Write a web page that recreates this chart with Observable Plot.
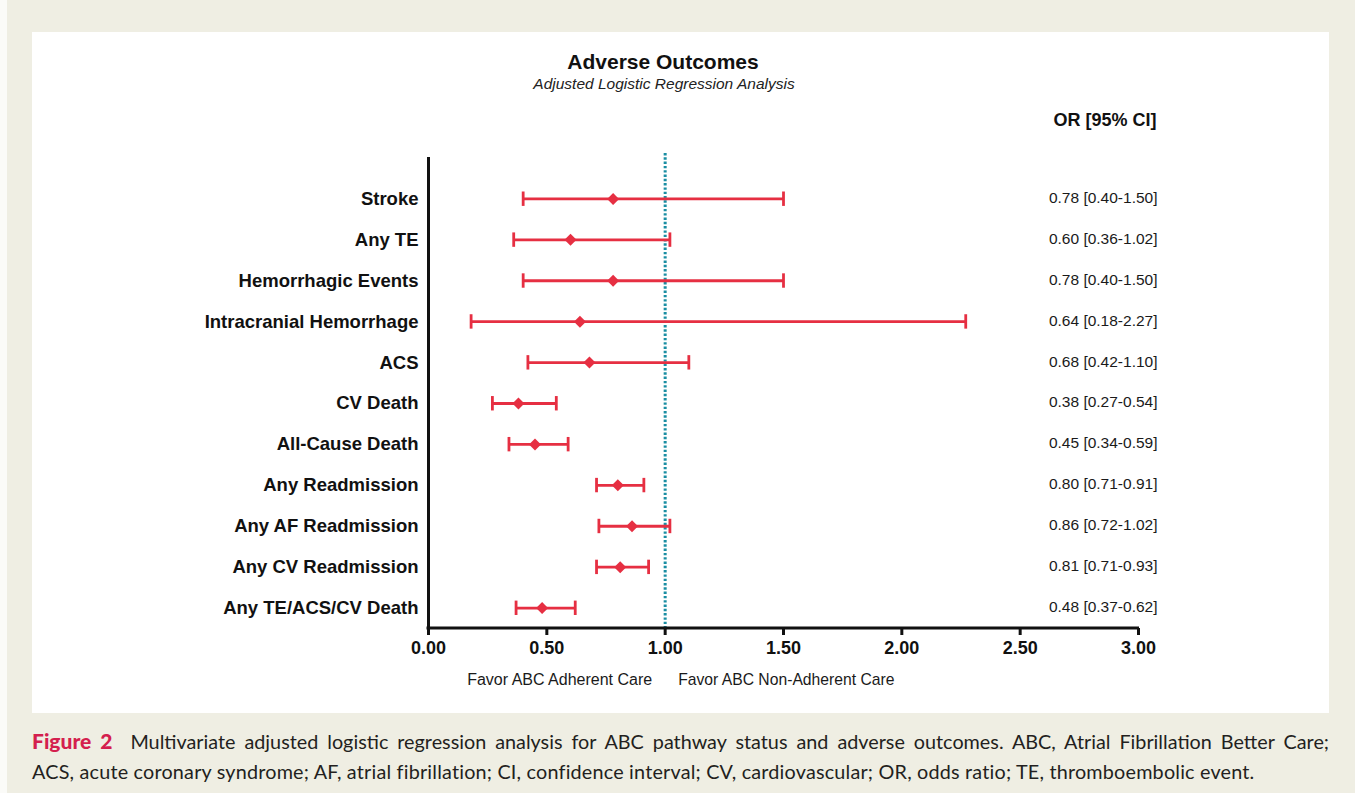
<!DOCTYPE html>
<html>
<head>
<meta charset="utf-8">
<script src="https://cdn.jsdelivr.net/npm/d3@7"></script>
<script src="https://cdn.jsdelivr.net/npm/@observablehq/plot@0.6"></script>
<style>
  html, body { margin: 0; padding: 0; }
  body { width: 1355px; height: 793px; background: #efeee3; position: relative; overflow: hidden; font-family: "Liberation Sans", Arial, sans-serif; }
  #edge { position: absolute; left: 0; top: 0; width: 7px; height: 793px; background: #fbfbf8; }
  #panel { position: absolute; left: 32px; top: 32px; width: 1297px; height: 681px; background: #ffffff; }
  #title { position: absolute; left: 0; width: 1262px; top: 18px; text-align: center; font-weight: bold; font-size: 21px; color: #111; }
  #subtitle { position: absolute; left: 0; width: 1264px; top: 43px; text-align: center; font-style: italic; font-size: 15.5px; color: #222; }
  #chart { position: absolute; left: 0; top: 68px; }
  .cap { position: absolute; left: 32px; width: 1297px; font-family: Lato, "Open Sans", sans-serif; font-size: 19.8px; color: #231f20; line-height: 1; white-space: nowrap; }
  #cap1 { top: 730px; text-align: justify; text-align-last: justify; }
  #cap2 { top: 762px; text-align: left; letter-spacing: 0.2px; }
  .fig { color: #d41f4e; font-weight: 900; font-size: 21px; }
</style>
</head>
<body>
<div id="edge"></div>
<div id="panel">
  <div id="title">Adverse Outcomes</div>
  <div id="subtitle">Adjusted Logistic Regression Analysis</div>
  <div id="chart"></div>
</div>
<div class="cap" id="cap1"><span class="fig">Figure 2</span>&nbsp; Multivariate adjusted logistic regression analysis for ABC pathway status and adverse outcomes. ABC, Atrial Fibrillation Better Care;</div>
<div class="cap" id="cap2">ACS, acute coronary syndrome; AF, atrial fibrillation; CI, confidence interval; CV, cardiovascular; OR, odds ratio; TE, thromboembolic event.</div>
<script>
// ---- data ----
const outcomes = ["Stroke", "Any TE", "Hemorrhagic Events", "Intracranial Hemorrhage", "ACS", "CV Death", "All-Cause Death", "Any Readmission", "Any AF Readmission", "Any CV Readmission", "Any TE/ACS/CV Death"];
const oddsRatio = [0.78, 0.60, 0.78, 0.64, 0.68, 0.38, 0.45, 0.80, 0.86, 0.81, 0.48];
const ciLow     = [0.40, 0.36, 0.40, 0.18, 0.42, 0.27, 0.34, 0.71, 0.72, 0.71, 0.37];
const ciHigh    = [1.50, 1.02, 1.50, 2.27, 1.10, 0.54, 0.59, 0.91, 1.02, 0.93, 0.62];
const xTicks = [0, 0.5, 1, 1.5, 2, 2.5, 3];
const referenceLine = [1];
const favorLabels = ["Favor ABC Adherent Care", "Favor ABC Non-Adherent Care"];
const orHeader = "OR [95% CI]";

const rows = outcomes.map((name, i) => ({
  name, or: oddsRatio[i], lo: ciLow[i], hi: ciHigh[i],
  label: `${oddsRatio[i].toFixed(2)} [${ciLow[i].toFixed(2)}-${ciHigh[i].toFixed(2)}]`
}));

const red = "#e62f42";
const teal = "#1a8ea3";
const ink = "#111111";

const xAxisLine = (index, scales, values, dims) => {
  const y = dims.height - dims.marginBottom;
  const line = document.createElementNS("http://www.w3.org/2000/svg", "line");
  line.setAttribute("x1", scales.x(xTicks[0]) - 1.5);
  line.setAttribute("x2", scales.x(xTicks[xTicks.length - 1]) + 1);
  line.setAttribute("y1", y);
  line.setAttribute("y2", y);
  line.setAttribute("stroke", ink);
  line.setAttribute("stroke-width", 3);
  return line;
};

const chart = Plot.plot({
  width: 1297,
  height: 612,
  marginLeft: 396,
  marginRight: 191,
  marginTop: 57,
  marginBottom: 84,
  style: { fontFamily: "'Liberation Sans', Arial, sans-serif", color: ink, background: "transparent" },
  x: { domain: [0, 3] },
  y: { type: "band", domain: outcomes, padding: 0, insetTop: 21, round: false },
  marks: [
    Plot.ruleX(referenceLine, { stroke: teal, strokeWidth: 3, strokeDasharray: "2.4,1.9", insetTop: -4 }),
    Plot.ruleX([0], { stroke: ink, strokeWidth: 3 }),
    xAxisLine,
    Plot.axisX({ ticks: xTicks, tickFormat: ".2f", tickSize: 7, tickPadding: 6, strokeWidth: 3, fontSize: 18, fontWeight: "bold", label: null, fill: ink }),
    Plot.axisY({ tickSize: 0, tickPadding: 10, fontSize: 18.5, fontWeight: "bold", label: null, fill: ink }),
    Plot.ruleY(rows, { y: "name", x1: "lo", x2: "hi", stroke: red, strokeWidth: 2.8 }),
    Plot.tickX(rows, { y: "name", x: "lo", stroke: red, strokeWidth: 2.8, insetTop: 13.5, insetBottom: 13 }),
    Plot.tickX(rows, { y: "name", x: "hi", stroke: red, strokeWidth: 2.8, insetTop: 13.5, insetBottom: 13 }),
    Plot.dot(rows, { y: "name", x: "or", symbol: "diamond2", r: 5.4, fill: red, stroke: null }),
    Plot.text(rows, { y: "name", text: "label", frameAnchor: "right", textAnchor: "end", dx: 19, dy: -1, fontSize: 15.5, fill: "#1a1a1a" }),
    Plot.text([orHeader], { frameAnchor: "top-right", textAnchor: "end", dx: 18, dy: -44, fontSize: 18, fontWeight: "bold", fill: ink }),
    Plot.text([favorLabels[0]], { x: referenceLine[0], frameAnchor: "bottom", textAnchor: "end", dx: -13, dy: 56, fontSize: 16, fill: "#1a1a1a" }),
    Plot.text([favorLabels[1]], { x: referenceLine[0], frameAnchor: "bottom", textAnchor: "start", dx: 13, dy: 56, fontSize: 15.7, fill: "#1a1a1a" })
  ]
});
document.getElementById("chart").appendChild(chart);
</script>
</body>
</html>
